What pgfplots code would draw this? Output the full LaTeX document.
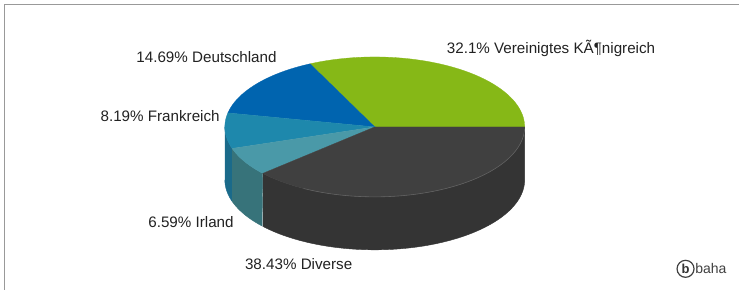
\documentclass[border=0pt]{standalone}
\usepackage{pgfplots}
\usepackage{pgfplotstable}
\pgfplotsset{compat=1.18}
\usepackage{fontspec}
\setmainfont{Liberation Sans}

\definecolor{cUK}{HTML}{86B817}
\definecolor{cDE}{HTML}{0064AF}
\definecolor{cFR}{HTML}{1E88AC}
\definecolor{cIE}{HTML}{4A99A8}
\definecolor{cDV}{HTML}{404040}
\definecolor{sFR}{HTML}{1A6A8A}
\definecolor{sIE}{HTML}{37737A}
\definecolor{sDV}{HTML}{343434}
\definecolor{txt}{HTML}{222222}

\pgfplotstableread{
share
32.1
14.69
8.19
6.59
38.43
}\piedata

\pgfplotstablegetelem{0}{share}\of\piedata \let\sA\pgfplotsretval
\pgfplotstablegetelem{1}{share}\of\piedata \let\sB\pgfplotsretval
\pgfplotstablegetelem{2}{share}\of\piedata \let\sC\pgfplotsretval
\pgfplotstablegetelem{3}{share}\of\piedata \let\sD\pgfplotsretval
\pgfplotstablegetelem{4}{share}\of\piedata \let\sE\pgfplotsretval

\pgfmathsetmacro\aA{0}
\pgfmathsetmacro\aB{\aA+3.6*\sA}
\pgfmathsetmacro\aC{\aB+3.6*\sB}
\pgfmathsetmacro\aD{\aC+3.6*\sC}
\pgfmathsetmacro\aE{\aD+3.6*\sD}
\pgfmathsetmacro\aF{\aE+3.6*\sE}

\def\cx{375}
\def\cy{127}
\def\rx{150}
\def\ry{70}
\def\hh{53}

\begin{document}
\begin{tikzpicture}
\begin{axis}[
  width=739pt, height=290pt, scale only axis,
  xmin=0, xmax=739, ymin=0, ymax=290,
  y dir=reverse,
  axis lines=none,
  clip=false,
  variable=\t,
]
% background and frame
\path[fill=white] (axis cs:0,0) rectangle (axis cs:739,290);
\draw[color=black!40, line width=1pt] (axis cs:4.5,290) -- (axis cs:4.5,4.5) -- (axis cs:739,4.5);

% side faces (visible front part, angles 180..360)
\addplot[fill=sFR, draw=sFR, line width=0.4pt, domain=0:2, samples=121]
  ({\cx+\rx*cos((\t<=1) ? (180+(\aD-180)*\t) : (\aD-(\aD-180)*(\t-1)))},
   {\cy-\ry*sin((\t<=1) ? (180+(\aD-180)*\t) : (\aD-(\aD-180)*(\t-1))) + ((\t>1) ? \hh : 0)});
\addplot[fill=sIE, draw=sIE, line width=0.4pt, domain=0:2, samples=121]
  ({\cx+\rx*cos((\t<=1) ? (\aD+(\aE-\aD)*\t) : (\aE-(\aE-\aD)*(\t-1)))},
   {\cy-\ry*sin((\t<=1) ? (\aD+(\aE-\aD)*\t) : (\aE-(\aE-\aD)*(\t-1))) + ((\t>1) ? \hh : 0)});
\addplot[fill=sDV, draw=sDV, line width=0.4pt, domain=0:2, samples=241]
  ({\cx+\rx*cos((\t<=1) ? (\aE+(\aF-\aE)*\t) : (\aF-(\aF-\aE)*(\t-1)))},
   {\cy-\ry*sin((\t<=1) ? (\aE+(\aF-\aE)*\t) : (\aF-(\aF-\aE)*(\t-1))) + ((\t>1) ? \hh : 0)});

% top faces
\addplot[fill=cUK, draw=cUK, line width=0.3pt, domain=\aA:\aB, samples=80]
  ({\cx+\rx*cos(\t)},{\cy-\ry*sin(\t)}) -- (axis cs:\cx,\cy) -- cycle;
\addplot[fill=cDE, draw=cDE, line width=0.3pt, domain=\aB:\aC, samples=40]
  ({\cx+\rx*cos(\t)},{\cy-\ry*sin(\t)}) -- (axis cs:\cx,\cy) -- cycle;
\addplot[fill=cFR, draw=cFR, line width=0.3pt, domain=\aC:\aD, samples=30]
  ({\cx+\rx*cos(\t)},{\cy-\ry*sin(\t)}) -- (axis cs:\cx,\cy) -- cycle;
\addplot[fill=cIE, draw=cIE, line width=0.3pt, domain=\aD:\aE, samples=30]
  ({\cx+\rx*cos(\t)},{\cy-\ry*sin(\t)}) -- (axis cs:\cx,\cy) -- cycle;
\addplot[fill=cDV, draw=cDV, line width=0.3pt, domain=\aE:\aF, samples=100]
  ({\cx+\rx*cos(\t)},{\cy-\ry*sin(\t)}) -- (axis cs:\cx,\cy) -- cycle;
% light rim on the dark slice
\addplot[draw=black!62, line width=0.6pt, domain=\aE+20:\aF-2, samples=80]
  ({\cx+\rx*cos(\t)},{\cy-\ry*sin(\t)});

% labels
\begin{scope}[every node/.style={font=\fontsize{15.2}{17}\selectfont, text=txt, inner sep=0pt}]
\node[anchor=west] at (axis cs:447,48) {32.1\% Vereinigtes KÃ¶nigreich};
\node[anchor=east] at (axis cs:277,57) {14.69\% Deutschland};
\node[anchor=east] at (axis cs:220,116) {8.19\% Frankreich};
\node[anchor=east] at (axis cs:234,222) {6.59\% Irland};
\node[anchor=west] at (axis cs:245,264) {38.43\% Diverse};
\end{scope}

% logo
\node[circle, draw=black!75, line width=1.2pt, inner sep=0.6pt, minimum size=17pt,
      font=\bfseries\fontsize{13}{13}\selectfont, text=black!80] (logo) at (axis cs:686,269) {b};
\node[anchor=west, inner sep=0pt, font=\fontsize{14}{14}\selectfont, text=black!75]
  at ([xshift=0.5pt]logo.east) {baha};
\end{axis}
\end{tikzpicture}
\end{document}
